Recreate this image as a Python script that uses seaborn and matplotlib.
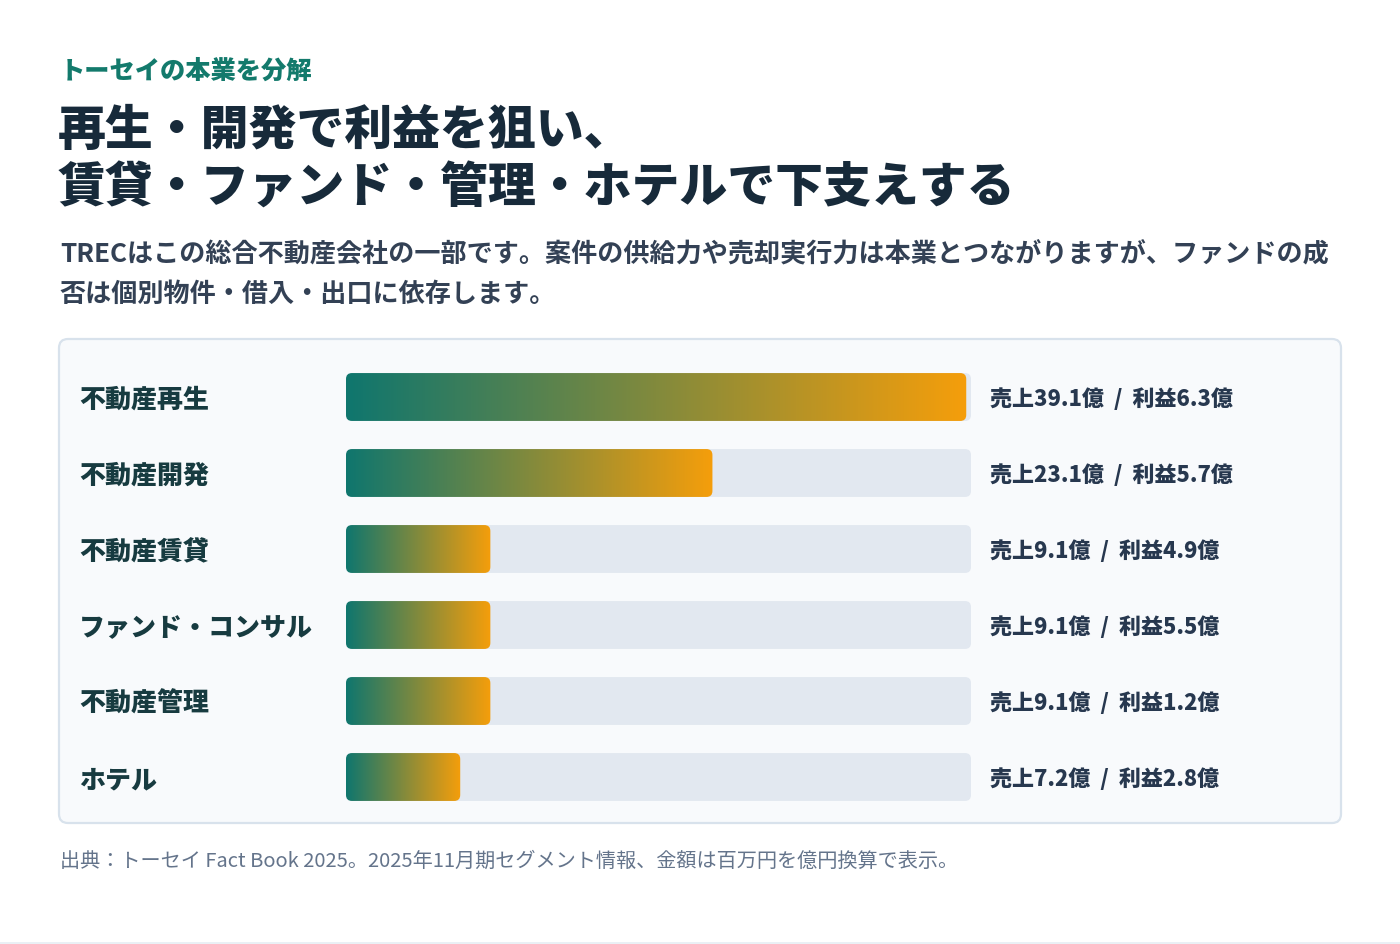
import numpy as np
import pandas as pd
import matplotlib
matplotlib.use("Agg")
import matplotlib.pyplot as plt
import seaborn as sns
from matplotlib.patches import FancyBboxPatch
from matplotlib.colors import LinearSegmentedColormap
from matplotlib.transforms import IdentityTransform
from matplotlib.lines import Line2D

# ---------------- data ----------------
segments = ["不動産再生", "不動産開発", "不動産賃貸", "ファンド・コンサル", "不動産管理", "ホテル"]
sales = [39.1, 23.1, 9.1, 9.1, 9.1, 7.2]      # 売上（億円）
profit = [6.3, 5.7, 4.9, 5.5, 1.2, 2.8]      # 利益（億円）
scale_max = 39.4

kicker = "トーセイの本業を分解"
title_lines = ["再生・開発で利益を狙い、", "賃貸・ファンド・管理・ホテルで下支えする"]
subtitle_lines = [
    "TRECはこの総合不動産会社の一部です。案件の供給力や売却実行力は本業とつながりますが、ファンドの成",
    "否は個別物件・借入・出口に依存します。",
]
source = "出典：トーセイ Fact Book 2025。2025年11月期セグメント情報、金額は百万円を億円換算で表示。"

# ---------------- style ----------------
sns.set_theme(style="white")
plt.rcParams['font.family'] = ['Noto Sans CJK JP', 'DejaVu Sans']

W, H = 1400, 945
fig = plt.figure(figsize=(14, 9.45), dpi=100)
fig.patch.set_facecolor('white')

def fx(px):
    return px / W

def fy(py):
    return 1 - py / H

# header texts
fig.text(fx(60), fy(71), kicker, fontsize=18.2, fontweight='black', color='#137a6c', va='center', ha='left')
fig.text(fx(58), fy(131), title_lines[0], fontsize=34.5, fontweight='black', color='#172a3a', va='center', ha='left')
fig.text(fx(58), fy(188), title_lines[1], fontsize=34.5, fontweight='black', color='#172a3a', va='center', ha='left')
fig.text(fx(60), fy(255), subtitle_lines[0], fontsize=18.8, fontweight='bold', color='#334155', va='center', ha='left')
fig.text(fx(60), fy(294), subtitle_lines[1], fontsize=18.8, fontweight='bold', color='#334155', va='center', ha='left')
fig.text(fx(60), fy(861), source, fontsize=14.5, color='#64748b', va='center', ha='left')

# panel
panel = FancyBboxPatch((59, H - 824), 1282, 484, boxstyle="round,pad=0,rounding_size=9",
                       transform=IdentityTransform(), facecolor="#f8fafc", edgecolor="#d8e2ec",
                       linewidth=1.6, zorder=0)
fig.add_artist(panel)
fig.add_artist(Line2D([0, 1], [fy(943.5)] * 2, transform=fig.transFigure, color='#e6eef3', lw=1.2))

# chart axes
ax = fig.add_axes([fx(346), fy(816), 625 / W, 456 / H])
ax.set_facecolor('none')

df = pd.DataFrame({'segment': segments, 'sales': sales, 'profit': profit,
                   'track': [scale_max] * len(segments)})

sns.barplot(data=df, x='track', y='segment', orient='h', color='#e2e8f0', width=0.63,
            saturation=1, ax=ax)
n_track = len(ax.patches)
sns.barplot(data=df, x='sales', y='segment', orient='h', color='#0f766e', width=0.63,
            saturation=1, ax=ax)
ax.set_xlim(0, scale_max)
ax.set_ylim(len(segments) - 0.5, -0.5)

px_x = ax.transData.transform((1, 0))[0] - ax.transData.transform((0, 0))[0]
px_y = abs(ax.transData.transform((0, 1))[1] - ax.transData.transform((0, 0))[1])
r_px = 6
r_x = r_px / px_x
aspect = px_x / px_y

cmap = LinearSegmentedColormap.from_list('tealamber', ['#0f766e', '#f59e0b'])
grad = np.linspace(0, 1, 256).reshape(1, -1)

patches = list(ax.patches)
for k, p in enumerate(patches):
    x0, y0, w, h = p.get_x(), p.get_y(), p.get_width(), p.get_height()
    p.set_visible(False)
    if k < n_track:
        rb = FancyBboxPatch((x0, y0), w, h, boxstyle=f"round,pad=0,rounding_size={r_x}",
                            mutation_aspect=aspect, facecolor='#e2e8f0', edgecolor='none', zorder=1)
        ax.add_patch(rb)
    else:
        rb = FancyBboxPatch((x0, y0), w, h, boxstyle=f"round,pad=0,rounding_size={r_x}",
                            mutation_aspect=aspect, facecolor='none', edgecolor='none', zorder=2)
        ax.add_patch(rb)
        im = ax.imshow(grad, cmap=cmap, aspect='auto', extent=(x0, x0 + w, y0 + h, y0),
                       interpolation='bilinear', zorder=2)
        im.set_clip_path(rb)

ax.set_xlim(0, scale_max)
ax.set_ylim(len(segments) - 0.5, -0.5)
ax.set_xlabel('')
ax.set_ylabel('')
ax.set_xticks([])
ax.set_yticks([])
for s in ax.spines.values():
    s.set_visible(False)

for i, row in df.iterrows():
    ax.annotate(row['segment'], xy=(0, i), xycoords=('axes fraction', 'data'),
                xytext=(-267 * 0.72, -1.4), textcoords='offset points', ha='left', va='center',
                fontsize=18.7, fontweight='black', color='#173b40')
    ax.annotate(f"売上{row['sales']:.1f}億  /  利益{row['profit']:.1f}億", xy=(1, i),
                xycoords=('axes fraction', 'data'), xytext=(19 * 0.72, -1.4),
                textcoords='offset points', ha='left', va='center',
                fontsize=15.8, fontweight='black', color='#27384f')

fig.savefig('out.png', dpi=100, facecolor='white')
